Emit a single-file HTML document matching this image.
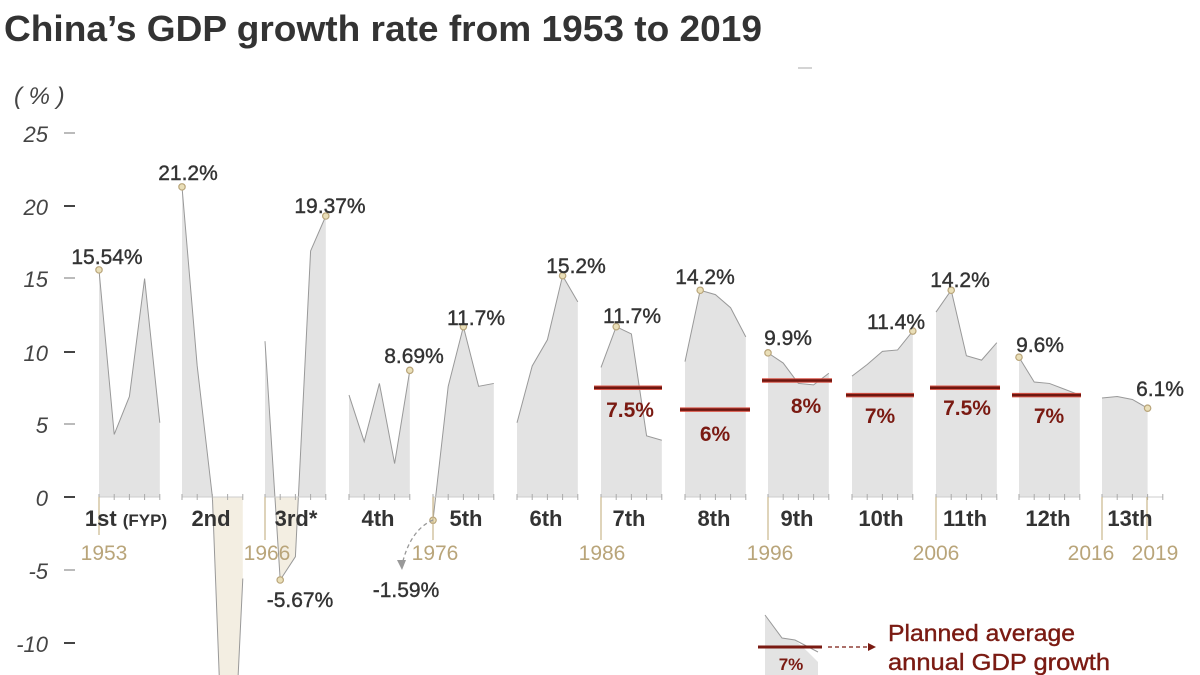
<!DOCTYPE html>
<html><head><meta charset="utf-8"><style>
html,body{margin:0;padding:0;background:#fff;width:1200px;height:675px;overflow:hidden;}
svg{display:block;font-family:"Liberation Sans",sans-serif;}
</style></head><body>
<svg id="s" width="1200" height="675" viewBox="0 0 1200 675" xmlns="http://www.w3.org/2000/svg">
<text x="4" y="41" font-size="36" font-weight="bold" fill="#333" textLength="758" lengthAdjust="spacingAndGlyphs">China’s GDP growth rate from 1953 to 2019</text>
<line x1="798" y1="68" x2="812" y2="68" stroke="#aaa" stroke-width="1"/>
<text x="14" y="104" font-size="24" font-style="italic" fill="#444">( % )</text>
<g font-size="22" font-style="italic" fill="#444" text-anchor="end">
<text x="48" y="142">25</text><text x="48" y="215">20</text><text x="48" y="287">15</text>
<text x="48" y="361">10</text><text x="48" y="433">5</text><text x="48" y="506">0</text>
<text x="48" y="579">-5</text><text x="48" y="652">-10</text>
</g>
<g stroke="#444" stroke-width="2">
<line x1="64" y1="133" x2="75" y2="133" stroke="#bbb"/><line x1="64" y1="206" x2="75" y2="206"/>
<line x1="64" y1="278" x2="75" y2="278" stroke="#bbb"/><line x1="64" y1="352" x2="75" y2="352"/>
<line x1="64" y1="424" x2="75" y2="424" stroke="#bbb"/><line x1="64" y1="497" x2="75" y2="497"/>
<line x1="64" y1="570" x2="75" y2="570" stroke="#bbb"/><line x1="64" y1="643" x2="75" y2="643"/>
</g>
<g id="areas"></g>
<g stroke="#c9b68c" stroke-width="1.2">
<line x1="99" y1="497" x2="99" y2="535"/><line x1="265" y1="497" x2="265" y2="540"/>
<line x1="433" y1="497" x2="433" y2="540"/><line x1="601" y1="497" x2="601" y2="540"/>
<line x1="768" y1="497" x2="768" y2="540"/><line x1="936" y1="497" x2="936" y2="540"/>
<line x1="1102" y1="497" x2="1102" y2="540"/><line x1="1147" y1="497" x2="1147" y2="540"/>
</g>
<g font-size="21" fill="#b9a57a" text-anchor="middle">
<text x="104" y="560">1953</text><text x="267" y="560">1966</text><text x="435" y="560">1976</text>
<text x="602" y="560">1986</text><text x="770" y="560">1996</text><text x="936" y="560">2006</text>
<text x="1091" y="560">2016</text><text x="1155" y="560">2019</text>
</g>
<g font-size="22" font-weight="bold" fill="#333" text-anchor="middle">
<text x="126" y="526">1st <tspan font-size="17">(FYP)</tspan></text><text x="211" y="526">2nd</text>
<text x="296" y="526">3rd*</text><text x="378" y="526">4th</text><text x="466" y="526">5th</text>
<text x="546" y="526">6th</text><text x="629" y="526">7th</text><text x="714" y="526">8th</text>
<text x="797" y="526">9th</text><text x="881" y="526">10th</text><text x="965" y="526">11th</text>
<text x="1048" y="526">12th</text><text x="1130" y="526">13th</text>
</g>
<g font-size="21" fill="#333" text-anchor="middle" stroke="#333" stroke-width="0.4">
<text x="107" y="264">15.54%</text><text x="188" y="180">21.2%</text><text x="330" y="213">19.37%</text>
<text x="414" y="363">8.69%</text><text x="476" y="325">11.7%</text><text x="576" y="273">15.2%</text>
<text x="632" y="323">11.7%</text><text x="705" y="284">14.2%</text><text x="788" y="345">9.9%</text>
<text x="896" y="329">11.4%</text><text x="960" y="287">14.2%</text><text x="1040" y="352">9.6%</text>
<text x="1160" y="396">6.1%</text><text x="300" y="607">-5.67%</text><text x="406" y="597">-1.59%</text>
</g>
<path d="M433 520 Q410 530 402 565" fill="none" stroke="#999" stroke-dasharray="4,3" stroke-width="1.3"/>
<path d="M397 560 L402 570 L406 560Z" fill="#999"/>
<g id="plan"></g>
<g font-size="21" font-weight="bold" fill="#7a1a12" text-anchor="middle">
<text x="630" y="417">7.5%</text><text x="715" y="441">6%</text><text x="806" y="413">8%</text>
<text x="880" y="423">7%</text><text x="967" y="415">7.5%</text><text x="1049" y="423">7%</text>
</g>
<path d="M765 615 L765 675 L818 675 L818 662 L808 652 L795 640 L782 638 Z" fill="#e3e3e3"/>
<polyline points="765,615 782,638 795,640 818,652" fill="none" stroke="#999" stroke-width="1"/>
<line x1="758" y1="647" x2="822" y2="647" stroke="#7a1a12" stroke-width="3"/>
<text x="791" y="670" font-size="17" font-weight="bold" fill="#7a1a12" text-anchor="middle">7%</text>
<line x1="828" y1="647" x2="870" y2="647" stroke="#7a1a12" stroke-dasharray="4,3" stroke-width="1.2"/>
<path d="M868 643 L876 647 L868 651Z" fill="#7a1a12"/>
<text x="888" y="641" font-size="23" fill="#7a1a12" stroke="#7a1a12" stroke-width="0.4" textLength="187" lengthAdjust="spacingAndGlyphs">Planned average</text>
<text x="888" y="670" font-size="23" fill="#7a1a12" stroke="#7a1a12" stroke-width="0.4" textLength="222" lengthAdjust="spacingAndGlyphs">annual GDP growth</text>
</svg>
<script>
var Y=function(v){return 497-14.56*v;};
var groups=[[99,[15.6,4.3,6.9,15.0,5.1]],[182,[21.3,9.0,0.0,-27.3,-5.6]],[265,[10.7,-5.7,-4.1,16.9,19.3]],
[349,[7.0,3.8,7.8,2.3,8.7]],[433,[-1.6,7.6,11.7,7.6,7.8]],[517,[5.1,9.0,10.8,15.2,13.4]],
[601,[8.9,11.7,11.2,4.2,3.9]],[685,[9.3,14.2,13.9,13.0,11.0]],[768,[9.9,9.2,7.8,7.7,8.5]],
[852,[8.3,9.1,10.0,10.1,11.4]],[936,[12.7,14.2,9.7,9.4,10.6]],[1019,[9.6,7.9,7.8,7.4,7.0]],[1102,[6.8,6.9,6.7,6.1]]];
var dots={"0":[0],"1":[0],"2":[1,4],"3":[4],"4":[0,2],"5":[3],"6":[1],"7":[1],"8":[0],"9":[4],"10":[1],"11":[0],"12":[3]};
var h='',st=15.2;
groups.forEach(function(g,gi){
 var x0=g[0],d=g[1],pts=d.map(function(v,i){return [x0+i*st,Y(v)];});
 var xe=x0+(d.length-1)*st;
 h+='<defs><clipPath id="cp'+gi+'"><rect x="0" y="0" width="1200" height="497"/></clipPath><clipPath id="cn'+gi+'"><rect x="0" y="497" width="1200" height="178"/></clipPath></defs>';
 var poly='M'+x0+' 497 '+pts.map(function(p){return 'L'+p[0]+' '+p[1];}).join(' ')+' L'+xe+' 497Z';
 h+='<path d="'+poly+'" fill="#e3e3e3" clip-path="url(#cp'+gi+')"/>';
 h+='<path d="'+poly+'" fill="#f3eee2" clip-path="url(#cn'+gi+')"/>';
 h+='<polyline points="'+pts.map(function(p){return p.join(',');}).join(' ')+'" fill="none" stroke="#999" stroke-width="1" clip-path="url(#cl)"/>';
 var ext=(gi==12)?xe+15:xe;
 h+='<line x1="'+x0+'" y1="497" x2="'+ext+'" y2="497" stroke="#ccc" stroke-width="1"/>';
 for(var i=0;i<=4;i++){var tx=x0+i*st;h+='<line x1="'+tx+'" y1="494" x2="'+tx+'" y2="500" stroke="#aaa" stroke-width="1"/>';}
 (dots[gi]||[]).forEach(function(i){h+='<circle cx="'+pts[i][0]+'" cy="'+pts[i][1]+'" r="3.2" fill="#eadfb8" stroke="#b9a57a" stroke-width="1.2"/>';});
});
document.getElementById('areas').innerHTML='<defs><clipPath id="cl"><rect x="0" y="0" width="1200" height="675"/></clipPath></defs>'+h;
var plans=[[594,662,7.5],[680,750,6],[762,832,8],[846,914,7],[930,1000,7.5],[1012,1081,7]];
var p='';plans.forEach(function(q){var y=Y(q[2]);p+='<line x1="'+q[0]+'" y1="'+y+'" x2="'+q[1]+'" y2="'+y+'" stroke="#d8574a" stroke-width="4.5"/><line x1="'+q[0]+'" y1="'+y+'" x2="'+q[1]+'" y2="'+y+'" stroke="#6e1710" stroke-width="2.5"/>';});
document.getElementById('plan').innerHTML=p;
</script>
</body></html>
